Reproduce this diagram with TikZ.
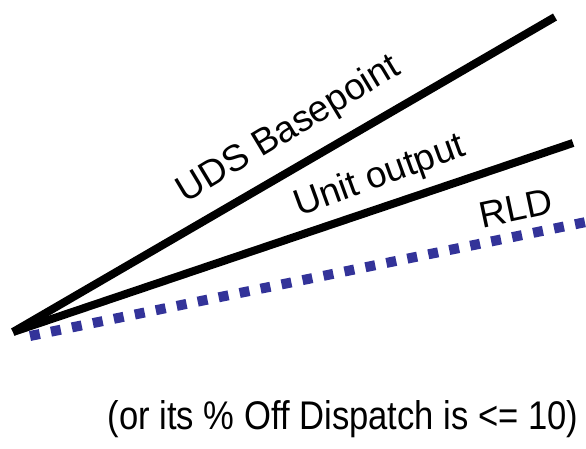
\documentclass[tikz,border=0pt]{standalone}
\usepackage{fontspec}
\setmainfont{Liberation Sans}
\newfontfamily\narrowfont[FakeStretch=0.865]{Liberation Sans}
\usepackage{tikz}
\usetikzlibrary{calc}
\definecolor{rldblue}{RGB}{51,51,153}

\begin{document}
\begin{tikzpicture}[x=1pt,y=-1pt,
  curve/.style={line width=8pt,black},
  rld/.style={line width=10pt,rldblue,dash pattern=on 10pt off 11.4pt},
  lbl/.style={inner sep=0pt,font=\fontsize{37}{42}\selectfont}]
\useasboundingbox (0,0) rectangle (586,448);
\coordinate (origin) at (13,332);
\coordinate (udsEnd) at (555,17);
\coordinate (unitEnd) at (573,143);
\coordinate (rldStart) at (30,336);
\coordinate (rldEnd) at (586,222);
% lines
\draw[rld] (rldStart) -- (rldEnd);
\draw[curve] (origin) -- (udsEnd);
\draw[curve] (origin) -- (unitEnd);
% labels
\node[lbl,rotate=31] (uds) at (289,130) {UDS Basepoint};
\node[lbl,rotate=20] (unit) at (380,177) {Unit output};
\node[lbl,rotate=12] (rldlabel) at (516,208) {RLD};
\node[inner sep=0pt,font=\narrowfont\fontsize{40}{46}\selectfont] (note) at (343,419) {(or its \% Off Dispatch is <= 10)};
\end{tikzpicture}
\end{document}
